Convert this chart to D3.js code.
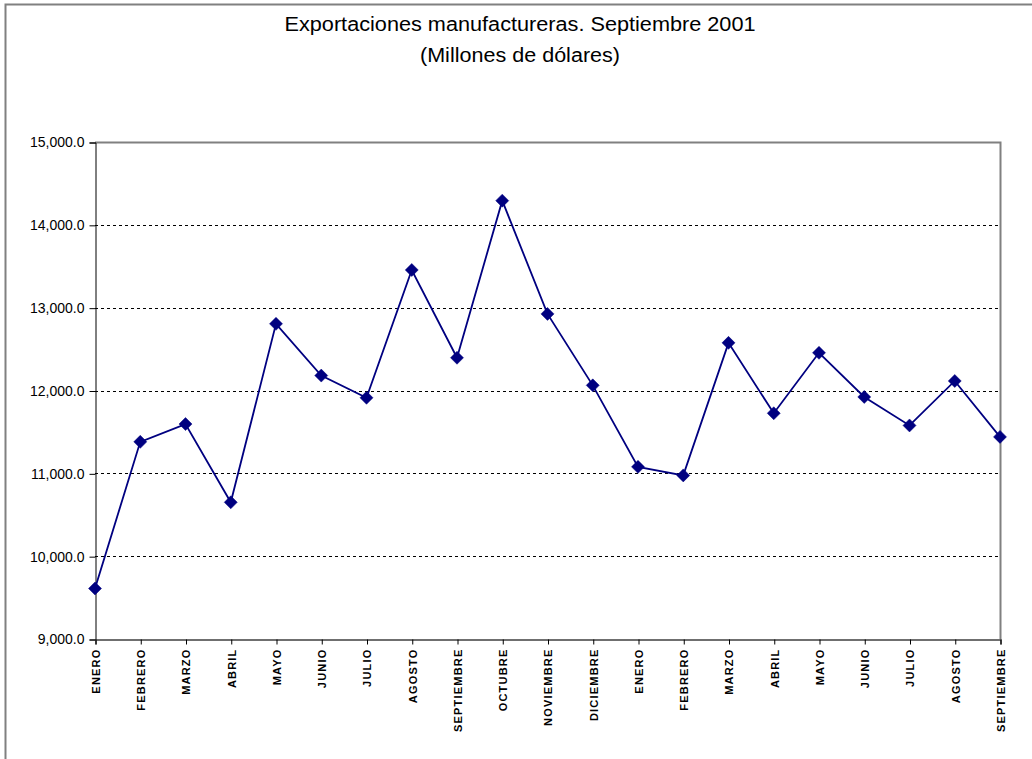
<!DOCTYPE html>
<html>
<head>
<meta charset="utf-8">
<script src="https://cdn.jsdelivr.net/npm/d3@7"></script>
<style>
  html, body { margin: 0; padding: 0; background: #fff; }
  svg { display: block; }
</style>
</head>
<body>
<svg id="chart" width="1032" height="759"></svg>
<script>
const titleLines = ["Exportaciones manufactureras. Septiembre 2001", "(Millones de dólares)"];
const categories = ["ENERO","FEBRERO","MARZO","ABRIL","MAYO","JUNIO","JULIO","AGOSTO","SEPTIEMBRE","OCTUBRE","NOVIEMBRE","DICIEMBRE",
                    "ENERO","FEBRERO","MARZO","ABRIL","MAYO","JUNIO","JULIO","AGOSTO","SEPTIEMBRE"];
const values = [9610, 11380, 11595, 10650, 12805, 12180, 11912, 13455, 12395, 14292, 12925, 12062,
                11078, 10975, 12575, 11725, 12455, 11922, 11578, 12115, 11440];
const yTicks = [9000, 10000, 11000, 12000, 13000, 14000, 15000];

const svg = d3.select("#chart");
const W = 1032, H = 759;
const m = { left: 95, right: 1000, top: 142, bottom: 639 };

// outer chart border
svg.append("rect").attr("x", 5.5).attr("y", 4.5).attr("width", W + 10).attr("height", H + 10)
  .attr("fill", "none").attr("stroke", "#808080").attr("stroke-width", 2);

// title
svg.append("text").attr("x", 520).attr("y", 31).attr("text-anchor", "middle")
  .attr("font-family", "Liberation Sans, Arial, sans-serif").attr("font-size", 20)
  .attr("textLength", 471).attr("lengthAdjust", "spacingAndGlyphs")
  .text(titleLines[0]);
svg.append("text").attr("x", 520).attr("y", 62).attr("text-anchor", "middle")
  .attr("font-family", "Liberation Sans, Arial, sans-serif").attr("font-size", 20)
  .attr("textLength", 200).attr("lengthAdjust", "spacingAndGlyphs")
  .text(titleLines[1]);

const x = d3.scalePoint().domain(d3.range(categories.length)).range([m.left, m.right]).padding(0);
const y = d3.scaleLinear().domain([9000, 15000]).range([m.bottom, m.top]);

// grid lines
svg.append("g").selectAll("line").data(yTicks.filter(t => t > 9000 && t < 15000)).join("line")
  .attr("x1", m.left).attr("x2", m.right)
  .attr("y1", d => Math.round(y(d)) + 0.5).attr("y2", d => Math.round(y(d)) + 0.5)
  .attr("stroke", "#000").attr("stroke-dasharray", "3,3").attr("stroke-width", 1);

// plot border (top & right gray)
svg.append("path")
  .attr("d", `M${m.left},${m.top + 0.5}H${m.right + 0.5}V${m.bottom}`)
  .attr("fill", "none").attr("stroke", "#808080").attr("stroke-width", 2);

// y axis
const yAxis = d3.axisLeft(y).tickValues(yTicks).tickSize(6).tickPadding(5)
  .tickFormat(d => d3.format(",.1f")(d));
const gy = svg.append("g").attr("transform", `translate(${m.left + 0.5},0.5)`).call(yAxis);
gy.attr("font-size", null).attr("font-family", null);
gy.selectAll("path, line").attr("stroke", "#000");
gy.selectAll("text").style("font-family", "Liberation Sans, Arial, sans-serif").style("font-size", "14px")
  .attr("fill", "#000");

// x axis
const xAxis = d3.axisBottom(x).tickSize(5).tickFormat(i => categories[i]);
const gx = svg.append("g").attr("transform", `translate(0.5,${m.bottom + 0.5})`).call(xAxis);
gx.attr("font-size", null).attr("font-family", null);
gx.select(".domain").attr("stroke", "#404040").attr("stroke-width", 1.5);
gx.selectAll("line").attr("stroke", "#000");
gx.selectAll("text")
  .style("font-family", "Liberation Sans, Arial, sans-serif").style("font-size", "11px").attr("font-weight", "bold")
  .attr("letter-spacing", "1.2px")
  .attr("fill", "#000")
  .attr("text-anchor", "end")
  .attr("dy", "0.35em")
  .attr("transform", "rotate(-90)")
  .attr("x", -9).attr("y", 0);

// line
const line = d3.line().x((d, i) => x(i)).y(d => y(d));
svg.append("path").datum(values).attr("d", line)
  .attr("fill", "none").attr("stroke", "#000080").attr("stroke-width", 1.8);

// diamond markers
svg.append("g").selectAll("path").data(values).join("path")
  .attr("transform", (d, i) => `translate(${x(i)},${y(d)})`)
  .attr("d", "M0,-6.5L6.5,0L0,6.5L-6.5,0Z")
  .attr("fill", "#000080").attr("stroke", "#000080").attr("stroke-width", 0.5);
</script>
</body>
</html>
